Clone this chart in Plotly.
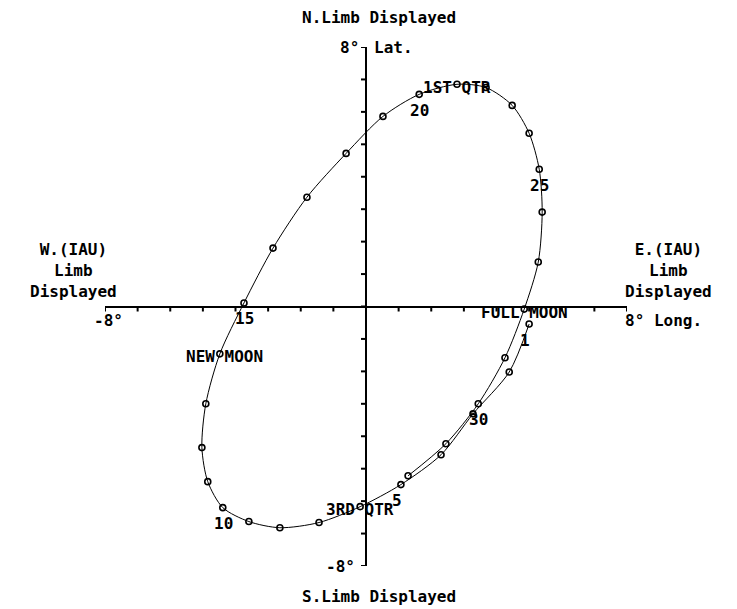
import plotly.graph_objects as go

# daily optical libration (degrees), one point per day of the month
days = list(range(1, 33))
lon = [5.00, 4.39, 3.28, 2.30, 1.07, -0.18, -1.44, -2.64, -3.59, -4.39,
       -4.85, -5.03, -4.91, -4.48, -3.74, -2.85, -1.81, -0.61, 0.52, 1.63,
       2.79, 3.68, 4.48, 5.00, 5.31, 5.40, 5.28, 4.85, 4.26, 3.44, 2.45, 1.29]
lat = [-0.54, -2.02, -3.31, -4.57, -5.49, -6.17, -6.66, -6.82, -6.63, -6.20,
       -5.40, -4.35, -3.00, -1.46, 0.11, 1.80, 3.37, 4.72, 5.86, 6.54,
       6.85, 6.75, 6.20, 5.34, 4.23, 2.91, 1.37, -0.08, -1.58, -3.00, -4.23, -5.22]

label_days = [1, 5, 10, 15, 20, 25, 30]
phase_names = ["FULL MOON", "3RD QTR", "NEW MOON", "1ST QTR"]
phase_days = [28, 6, 14, 21]

tick_vals = list(range(-8, 9))

FONT = dict(family="DejaVu Sans Mono", size=16, color="black", weight="bold")
CHAR_W = 9.6

fig = go.Figure()

fig.add_trace(go.Scatter(
    x=lon, y=lat, mode="lines+markers",
    line=dict(color="black", width=1, shape="spline", smoothing=0.8),
    marker=dict(symbol="circle-open", size=6, color="black", line=dict(width=1.6)),
    hoverinfo="skip",
))

ann = []
# day numbers, just below their point
for d in label_days:
    i = days.index(d)
    ann.append(dict(x=lon[i], y=lat[i], text=str(d), xanchor="left", yanchor="middle",
                    xshift=-11, yshift=-16))
# moon phases, centred so the marker sits in the gap between the words
for name, d in zip(phase_names, phase_days):
    i = days.index(d)
    gap = name.index(" ")
    shift = (len(name) / 2 - (gap + 0.5)) * CHAR_W
    ann.append(dict(x=lon[i], y=lat[i], text=name, xanchor="center", yanchor="middle",
                    xshift=shift, yshift=-3))

# axis end labels
ann += [
    dict(x=-8, y=0, text="-8°", xanchor="center", yanchor="middle", xshift=3, yshift=-14),
    dict(x=8, y=0, text="8° Long.", xanchor="left", yanchor="middle", xshift=-4, yshift=-14),
    dict(x=0, y=8, text="8°", xanchor="right", yanchor="middle", xshift=-5),
    dict(x=0, y=8, text="Lat.", xanchor="left", yanchor="middle", xshift=6),
    dict(x=0, y=-8, text="-8°", xanchor="right", yanchor="middle", xshift=-9),
    dict(x=0, y=8, text="N.Limb Displayed", xanchor="center", yanchor="middle",
         xshift=13, yshift=30),
    dict(x=0, y=-8, text="S.Limb Displayed", xanchor="center", yanchor="middle",
         xshift=13, yshift=-30),
    dict(x=-8, y=0, text="W.(IAU)<br>Limb<br>Displayed", xanchor="center",
         yanchor="middle", xshift=-32, yshift=36),
    dict(x=8, y=0, text="E.(IAU)<br>Limb<br>Displayed", xanchor="center",
         yanchor="middle", xshift=41, yshift=36),
]

for a in ann:
    a.update(xref="x", yref="y", showarrow=False, font=FONT)

# tick marks on the crossing axes
shapes = []
for v in tick_vals:
    shapes.append(dict(type="line", xref="x", yref="y", x0=v, x1=v,
                       ysizemode="pixel", yanchor=0, y0=0, y1=-5,
                       line=dict(color="black", width=2)))
    shapes.append(dict(type="line", xref="x", yref="y", y0=v, y1=v,
                       xsizemode="pixel", xanchor=0, x0=0, x1=-5,
                       line=dict(color="black", width=2)))

axis = dict(range=[-8, 8], autorange=False, showgrid=False, showticklabels=False,
            ticks="", showline=False, zeroline=True, zerolinecolor="black",
            zerolinewidth=2, fixedrange=True)

# the page adds an 8px body margin, so the figure is 8px smaller than the window
fig.update_layout(
    width=729, height=601,
    margin=dict(l=97, r=110, t=39, b=43),
    paper_bgcolor="white", plot_bgcolor="white",
    showlegend=False,
    xaxis=axis, yaxis=axis,
    annotations=ann, shapes=shapes,
)

fig.write_html("out.html", config={"displayModeBar": False})
